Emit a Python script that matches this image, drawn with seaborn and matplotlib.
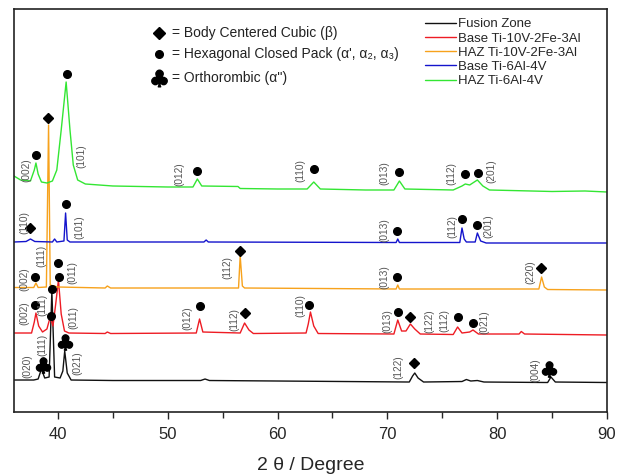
import numpy as np
import pandas as pd
import seaborn as sns
import matplotlib.pyplot as plt
from matplotlib.ticker import MultipleLocator

# XRD patterns (2theta in degree, intensity in a.u. above each baseline)
samples = ['Fusion Zone', 'Base Ti-10V-2Fe-3Al', 'HAZ Ti-10V-2Fe-3Al', 'Base Ti-6Al-4V', 'HAZ Ti-6Al-4V']
colors = ['#111111', '#ee1c24', '#f7a21c', '#1414cc', '#33e633']
offsets = [31, 78, 124, 170, 222]

fz_x = [36, 37.8, 38.2, 38.5, 38.8, 39.2, 39.45, 39.7, 40.2, 40.45, 40.62, 40.85, 41.2, 45, 53.0, 53.4, 53.8, 60,
        72.0, 72.3, 72.5, 72.8, 73.3, 76.8, 77.2, 77.6, 78.2, 78.8, 84.6, 84.9, 85.3, 90]
fz_i = [1, 1, 2, 12, 3, 4, 90, 4, 3, 10, 30, 8, 1, 0.5, 0.5, 2, 0.5, 0,
        -1, 5, 8, 3, -1, -0.5, 1.5, 0, 0.5, -1, -1.5, 4, -1, -1.5]

b10_x = [36, 37.6, 37.85, 38.0, 38.25, 38.6, 39.0, 39.3, 39.55, 39.8, 40.05, 40.3, 40.6, 41.0, 44.3, 44.5, 44.8,
         52.6, 52.9, 53.2, 56.6, 57.0, 57.4, 57.8, 62.6, 62.8, 63.0, 63.3, 63.7, 70.6, 70.95, 71.3, 71.7, 72.1,
         72.5, 73.0, 76.0, 76.4, 76.8, 77.5, 77.8, 78.3, 82.0, 82.2, 82.5, 90]
b10_i = [1, 1, 12, 21, 8, 2, 5, 17, 8, 30, 54, 20, 3, 1, 0.5, 2, 0.5,
         1, 15, 2, 1, 11, 4, 0.5, 1, 10, 22, 8, 0.5, 0, 14, 3, 3, 10,
         5, 0, -0.5, 7, 1, 2, 4, 0, 0, 2.5, 0, -1]

h10_x = [36, 37.8, 38.0, 38.2, 38.95, 39.15, 39.3, 40.0, 44.3, 44.5, 44.8, 56.45, 56.6, 56.8, 57.0,
         70.8, 70.95, 71.1, 83.8, 84.05, 84.3, 84.6, 90]
h10_i = [0.5, 0.5, 5, 0.5, 1, 163, 3, 1, 0, 2, 0, 0, 32, 2, 0,
         -1, 3, -1, -1, 11, 1, -1.5, -2]

b64_x = [36, 37.1, 37.5, 37.9, 39.5, 39.7, 39.9, 40.55, 40.7, 40.85, 41.1, 53.3, 53.5, 53.7,
         70.8, 70.95, 71.1, 76.6, 76.8, 77.0, 77.2, 78.0, 78.2, 78.5, 79.0, 90]
b64_i = [0, 0.5, 3, 0.5, 0, 3, 0, 1, 29, 2, 0, 0, 2, 0,
         -0.5, 3, -0.5, -0.5, 14, 3, 0, 0, 9, 1, -1, -1]

h64_x = [36, 36.6, 37.5, 37.85, 38.0, 38.2, 38.5, 39.0, 39.5, 39.9, 40.3, 40.75, 41.1, 41.4, 41.8, 42.5, 45, 50,
         52.3, 52.7, 53.1, 56.4, 56.6, 60, 62.7, 63.3, 63.9, 68, 70.6, 71.1, 71.6, 76.0, 76.8, 77.1, 77.5,
         78.2, 78.7, 79.3, 85, 88, 90]
h64_i = [14, 10, 9, 20, 27, 16, 8, 7, 9, 20, 60, 108, 60, 25, 10, 6, 4, 3,
         3, 11, 4, 3.5, 1.5, 1, 1, 8, 1, 0, 0, 9, 1, 0, 4, 6, 5,
         10, 4, 0, -1.5, -1, -2]

pattern_x = [fz_x, b10_x, h10_x, b64_x, h64_x]
pattern_i = [fz_i, b10_i, h10_i, b64_i, h64_i]

# phase symbols: (2theta, height, phase) ; B = bcc, H = hcp, O = orthorhombic
phase_x = [38.6, 39.44, 40.62, 72.4, 84.7,
           37.95, 39.4, 40.07, 52.9, 57.05, 62.9, 70.95, 72.1, 76.4, 77.8,
           37.95, 39.14, 39.98, 56.6, 70.9, 84.0,
           37.5, 40.7, 70.9, 76.8, 78.2,
           38.0, 40.8, 52.7, 63.3, 71.1, 77.1, 78.3]
phase_y = [47, 123, 70, 49, 43,
           107, 96, 135, 106, 99, 107, 100, 95, 95, 89,
           135, 294, 149, 161, 135, 144,
           184, 208, 181, 193, 187,
           257, 338, 241, 243, 240, 238, 239]
phase_k = ['O', 'H', 'O', 'B', 'O',
           'H', 'H', 'H', 'H', 'B', 'H', 'H', 'B', 'H', 'H',
           'H', 'B', 'H', 'B', 'H', 'B',
           'B', 'H', 'H', 'H', 'H',
           'H', 'H', 'H', 'H', 'H', 'H', 'H']

# Miller indices
hkl_x = [37.25, 38.6, 41.8, 71.05, 83.5,
         36.95, 38.6, 41.4, 51.8, 56.05, 62.1, 70.0, 73.8, 75.2, 78.8,
         36.95, 38.47, 41.35, 55.4, 69.7, 83.0,
         36.95, 41.95, 69.7, 75.9, 79.2,
         37.14, 42.1, 51.05, 62.1, 69.7, 75.8, 79.5]
hkl_y = [46, 67, 49, 45, 42,
         99, 107, 94, 94, 92, 106, 91, 91, 91, 90,
         133, 156, 139, 144, 135, 140,
         189, 185, 182, 185, 186,
         242, 256, 238, 241, 239, 238, 241]
hkl_t = ['(020)', '(111)', '(021)', '(122)', '(004)',
         '(002)', '(111)', '(011)', '(012)', '(112)', '(110)', '(013)', '(122)', '(112)', '(021)',
         '(002)', '(111)', '(011)', '(112)', '(013)', '(220)',
         '(110)', '(101)', '(013)', '(112)', '(201)',
         '(002)', '(101)', '(012)', '(110)', '(013)', '(112)', '(201)']

rows = []
for name, off, xs, ys in zip(samples, offsets, pattern_x, pattern_i):
    rows.append(pd.DataFrame({'2theta': xs, 'intensity': np.array(ys) + off, 'sample': name}))
df = pd.concat(rows, ignore_index=True)

sns.set_style('ticks')
plt.rcParams['font.family'] = ['Liberation Sans', 'DejaVu Sans']

fig = plt.figure(figsize=(6.27, 4.75), dpi=100)
ax = fig.add_axes([0.0223, 0.1326, 0.9457, 0.8485])

sns.lineplot(data=df, x='2theta', y='intensity', hue='sample', hue_order=samples,
             palette=colors, sort=False, estimator=None, linewidth=1.0, ax=ax)

px = np.array(phase_x)
py = np.array(phase_y)
pk = np.array(phase_k)
ax.plot(px[pk == 'H'], py[pk == 'H'], 'o', color='black', ms=5.5, ls='none')
ax.plot(px[pk == 'B'], py[pk == 'B'], 'D', color='black', ms=5, ls='none')
ax.plot(px[pk == 'O'], py[pk == 'O'], marker='$\\clubsuit$', color='black', ms=11, ls='none')

for x, y, t in zip(hkl_x, hkl_y, hkl_t):
    ax.text(x, y, t, rotation=90, ha='center', va='center', fontsize=7.3, color='#555555')

# phase key
key_y = [0.940, 0.888, 0.829]
key_mk = ['D', 'o', '$\\clubsuit$']
key_ms = [6, 5.5, 12]
key_txt = ['= Body Centered Cubic (\u03b2)', '= Hexagonal Closed Pack (\u03b1\', \u03b1\u2082, \u03b1\u2083)',
           '= Orthorombic (\u03b1\'\')']
for y, m, s, t in zip(key_y, key_mk, key_ms, key_txt):
    ax.plot([0.2445], [y], marker=m, ms=s, color='black', ls='none', transform=ax.transAxes)
    ax.text(0.266, y, t, transform=ax.transAxes, ha='left', va='center', fontsize=10, color='#222222')

ax.legend(loc='upper left', bbox_to_anchor=(0.677, 1.0), frameon=False, fontsize=9.5,
          handlelength=2.4, handletextpad=0.15, labelspacing=0.15, borderaxespad=0.3)

ax.set_xlim(36, 90)
ax.set_ylim(0, 403)
ax.set_yticks([])
ax.set_ylabel('')
ax.xaxis.set_major_locator(MultipleLocator(10))
ax.xaxis.set_minor_locator(MultipleLocator(5))
ax.tick_params(axis='x', which='major', direction='out', length=5, width=1, labelsize=12, pad=6)
ax.tick_params(axis='x', which='minor', direction='out', length=4, width=1)
for sp in ax.spines.values():
    sp.set_visible(True)
    sp.set_linewidth(1.2)
    sp.set_color('#222222')
ax.set_xlabel('2 \u03b8 / Degree', fontsize=14, labelpad=10.5)

plt.savefig('out.png', dpi=100)
